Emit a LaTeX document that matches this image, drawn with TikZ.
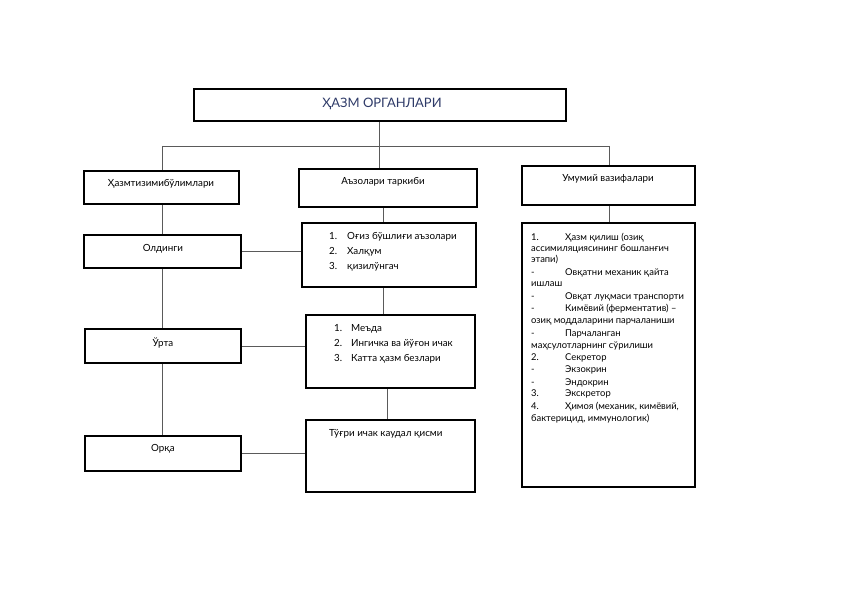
\documentclass[tikz,border=0pt]{standalone}
\usepackage{fontspec}
\setmainfont{Lato}
\definecolor{titleblue}{RGB}{46,58,104}
\definecolor{linegray}{RGB}{90,90,90}
\begin{document}
\begin{tikzpicture}[x=1pt,y=-1pt,
  box/.style={draw=black,line width=2pt,inner sep=0pt,fill=white},
  conn/.style={draw=linegray,line width=0.9pt},
  txt/.style={inner sep=0pt,font=\fontsize{9.8}{12}\selectfont,anchor=base},
  rtxt/.style={inner sep=0pt,font=\fontsize{9.4}{11}\selectfont,anchor=base west}]
\useasboundingbox (0,0) rectangle (842,596);
\fill[white] (0,0) rectangle (842,596);
\coordinate (busL) at (162,146);
\coordinate (busM) at (379,146);
\coordinate (busR) at (609,146);
% boxes
\node[box,minimum width=372pt,minimum height=32pt] (title) at (380,105) {};
\node[box,minimum width=155pt,minimum height=33pt] (hs) at (161.5,187.5) {};
\node[box,minimum width=178pt,minimum height=38pt] (az) at (388,188) {};
\node[box,minimum width=173pt,minimum height=39pt] (um) at (608.5,185.5) {};
\node[box,minimum width=157pt,minimum height=33pt] (ol) at (162.5,251.5) {};
\node[box,minimum width=174pt,minimum height=64pt] (l1) at (389,255) {};
\node[box,minimum width=156pt,minimum height=34pt] (ur) at (163,346) {};
\node[box,minimum width=169pt,minimum height=73pt] (l2) at (390.5,351.5) {};
\node[box,minimum width=169pt,minimum height=72pt] (l3) at (390.5,456) {};
\node[box,minimum width=156pt,minimum height=35pt] (or) at (163,453.5) {};
\node[box,minimum width=173pt,minimum height=264pt] (rb) at (608.5,355) {};
% connector lines
\draw[conn] (title.south -| busM) -- (busM);
\draw[conn] (busL) -- (busR);
\draw[conn] (busL) -- (busL |- hs.north);
\draw[conn] (busM) -- (busM |- az.north);
\draw[conn] (busR) -- (busR |- um.north);
\draw[conn] (busL |- hs.south) -- (busL |- ol.north);
\draw[conn] (busL |- ol.south) -- (busL |- ur.north);
\draw[conn] (busL |- ur.south) -- (busL |- or.north);
\coordinate (colM) at (383,0);
\coordinate (colM2) at (387,0);
\draw[conn] (colM |- az.south) -- (colM |- l1.north);
\draw[conn] (colM |- l1.south) -- (colM |- l2.north);
\draw[conn] (colM2 |- l2.south) -- (colM2 |- l3.north);
\draw[conn] (busR |- um.south) -- (busR |- rb.north);
\draw[conn] (ol.east) -- (ol.east -| l1.west);
\draw[conn] (ur.east) -- (ur.east -| l2.west);
\draw[conn] ([yshift=0.5pt]or.east) -- ([yshift=0.5pt]or.east -| l3.west);
% texts
\node[inner sep=0pt,font=\fontsize{13}{15}\selectfont,text=titleblue] (tt) at (382,104) {ҲАЗМ ОРГАНЛАРИ};
\node[txt] (hst) at (161,186.5) {Ҳазмтизимибўлимлари};
\node[txt] (azt) at (383,184) {Аъзолари таркиби};
\node[txt] (umt) at (608,182) {Умумий вазифалари};
\node[txt] (olt) at (163,251) {Олдинги};
\node[txt] (urt) at (163,346.5) {Ўрта};
\node[txt] (ort) at (163,451.5) {Орқа};
% list 1
\node[txt,anchor=base west] (a1n) at (329,239.5) {1.};
\node[txt,anchor=base west] (a1) at (347,239.5) {Оғиз бўшлиғи аъзолари};
\node[txt,anchor=base west] (a2n) at (329,254.5) {2.};
\node[txt,anchor=base west] (a2) at (347,254.5) {Халқум};
\node[txt,anchor=base west] (a3n) at (329,269.5) {3.};
\node[txt,anchor=base west] (a3) at (347,269.5) {қизилўнгач};
% list 2
\node[txt,anchor=base west] (b1n) at (334,331.5) {1.};
\node[txt,anchor=base west] (b1) at (351,331.5) {Меъда};
\node[txt,anchor=base west] (b2n) at (334,346.5) {2.};
\node[txt,anchor=base west] (b2) at (351,346.5) {Ингичка ва йўғон ичак};
\node[txt,anchor=base west] (b3n) at (334,361.5) {3.};
\node[txt,anchor=base west] (b3) at (351,361.5) {Катта ҳазм безлари};
% box 3
\node[txt,anchor=base west] (c1) at (329,436.5) {Тўғри ичак каудал қисми};
% right box
\node[rtxt] (r1n) at (531,240) {1.};
\node[rtxt] (r1) at (565,240) {Ҳазм қилиш (озиқ};
\node[rtxt] (r2) at (531,251) {ассимиляциясининг бошланғич};
\node[rtxt] (r3) at (531,262) {этапи)};
\node[rtxt] (r4n) at (531,275) {-};
\node[rtxt] (r4) at (565,275) {Овқатни механик қайта};
\node[rtxt] (r5) at (531,286) {ишлаш};
\node[rtxt] (r6n) at (531,299.5) {-};
\node[rtxt] (r6) at (565,299.5) {Овқат луқмаси транспорти};
\node[rtxt] (r7n) at (531,311.5) {-};
\node[rtxt] (r7) at (565,311.5) {Кимёвий (ферментатив) –};
\node[rtxt] (r8) at (531,323) {озиқ моддаларини парчаланиши};
\node[rtxt] (r9n) at (531,336) {-};
\node[rtxt] (r9) at (565,336) {Парчаланган};
\node[rtxt] (r10) at (531,348.5) {маҳсулотларнинг сўрилиши};
\node[rtxt] (r11n) at (531,360.5) {2.};
\node[rtxt] (r11) at (565,360.5) {Секретор};
\node[rtxt] (r12n) at (531,372.5) {-};
\node[rtxt] (r12) at (565,372.5) {Экзокрин};
\node[rtxt] (r13n) at (531,385) {-};
\node[rtxt] (r13) at (565,385) {Эндокрин};
\node[rtxt] (r14n) at (531,396.5) {3.};
\node[rtxt] (r14) at (565,396.5) {Экскретор};
\node[rtxt] (r15n) at (531,409) {4.};
\node[rtxt] (r15) at (565,409) {Ҳимоя (механик, кимёвий,};
\node[rtxt] (r16) at (531,421) {бактерицид, иммунологик)};
\end{tikzpicture}
\end{document}
